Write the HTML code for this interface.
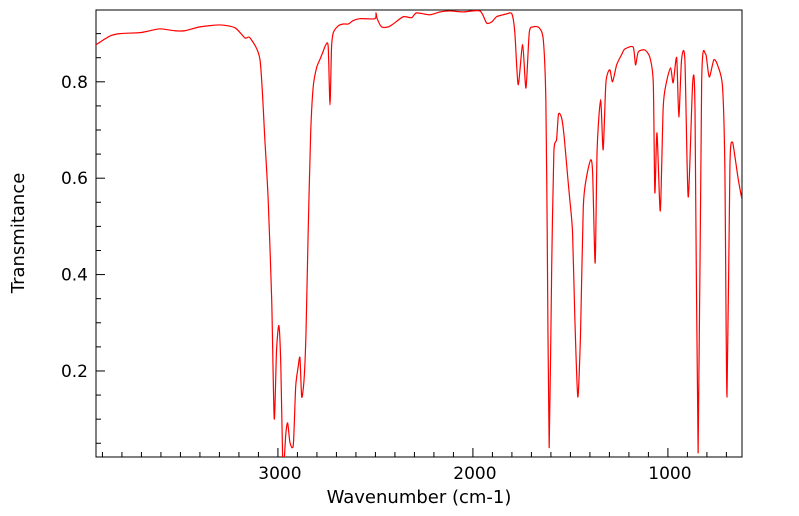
<!DOCTYPE html>
<html><head><meta charset="utf-8"><style>
html,body{margin:0;padding:0;background:#fff;}
svg{display:block;font-family:"DejaVu Sans","Liberation Sans",sans-serif;}
</style></head><body>
<svg id="chart" width="799" height="516" xmlns="http://www.w3.org/2000/svg">
<rect x="96" y="10" width="646" height="447" fill="none" stroke="#000" stroke-width="1"/>
<g id="ticks"></g>
<clipPath id="clip"><rect x="96" y="10" width="646" height="447"/></clipPath>
<path id="spectrum" fill="none" stroke="#ff0000" stroke-width="1.2" clip-path="url(#clip)"/>
<text x="419" y="503" font-size="18" text-anchor="middle">Wavenumber (cm-1)</text>
<text transform="translate(24,233) rotate(-90)" font-size="18" text-anchor="middle">Transmitance</text>
</svg>
<script>
const wavenumbers=[3933,3862,3810,3708,3656,3605,3528,3477,3400,3297,3220,3169,3143,3092,3067,3050,3032,3019,3007,2995,2985,2976,2968,2959,2950,2938,2921,2909,2896,2887,2878,2866,2856,2845,2832,2819,2802,2785,2771,2754,2742,2733,2725,2716,2691,2665,2639,2614,2580,2503,2497,2491,2468,2434,2409,2357,2314,2289,2221,2169,2118,2051,1964,1930,1904,1879,1846,1826,1800,1785,1768,1745,1728,1711,1691,1660,1639,1626,1619,1609,1596,1585,1571,1561,1545,1532,1514,1503,1489,1477,1462,1448,1434,1417,1396,1386,1373,1363,1345,1332,1318,1298,1284,1263,1238,1221,1178,1166,1152,1118,1092,1075,1067,1056,1039,1024,1007,986,973,955,944,930,913,896,873,861,845,827,807,788,764,742,720,708,697,682,670,656,639,620];
const transmittance=[0.877,0.895,0.900,0.902,0.906,0.910,0.906,0.906,0.914,0.918,0.912,0.891,0.891,0.846,0.680,0.555,0.348,0.101,0.244,0.294,0.209,0.022,0.016,0.072,0.092,0.051,0.047,0.167,0.209,0.227,0.146,0.182,0.279,0.487,0.694,0.790,0.829,0.846,0.860,0.877,0.872,0.752,0.872,0.902,0.916,0.920,0.920,0.927,0.931,0.931,0.943,0.931,0.914,0.914,0.920,0.935,0.933,0.943,0.939,0.945,0.947,0.945,0.947,0.922,0.924,0.935,0.939,0.941,0.941,0.902,0.794,0.877,0.787,0.902,0.914,0.912,0.887,0.763,0.487,0.041,0.416,0.653,0.680,0.733,0.725,0.686,0.603,0.555,0.487,0.306,0.146,0.279,0.540,0.603,0.638,0.611,0.424,0.659,0.763,0.659,0.798,0.825,0.800,0.835,0.856,0.868,0.872,0.835,0.862,0.866,0.850,0.798,0.570,0.694,0.532,0.748,0.800,0.829,0.798,0.850,0.727,0.846,0.846,0.561,0.798,0.742,0.030,0.798,0.858,0.810,0.846,0.831,0.790,0.624,0.146,0.624,0.675,0.644,0.597,0.555];
const xMajorTicks=[3000,2000,1000];
const yMajorTicks=[0.2,0.4,0.6,0.8];
const xDomain=[3933,620];
const yDomain=[0.0215,0.949];
const L=96,R=742,T=10,B=457;
function xs(v){return L+(xDomain[0]-v)/(xDomain[0]-xDomain[1])*(R-L);}
function ys(v){return B-(v-yDomain[0])/(yDomain[1]-yDomain[0])*(B-T);}
const NS="http://www.w3.org/2000/svg";
const pts=wavenumbers.map((w,i)=>[xs(w),ys(transmittance[i])]);
let d='M'+pts[0][0].toFixed(2)+','+pts[0][1].toFixed(2);
const k=0.12;
for(let i=0;i<pts.length-1;i++){
  const p0=pts[Math.max(0,i-1)],p1=pts[i],p2=pts[i+1],p3=pts[Math.min(pts.length-1,i+2)];
  const c1=[p1[0]+(p2[0]-p0[0])*k,p1[1]+(p2[1]-p0[1])*k];
  const c2=[p2[0]-(p3[0]-p1[0])*k,p2[1]-(p3[1]-p1[1])*k];
  d+=' C'+c1[0].toFixed(2)+','+c1[1].toFixed(2)+' '+c2[0].toFixed(2)+','+c2[1].toFixed(2)+' '+p2[0].toFixed(2)+','+p2[1].toFixed(2);
}
document.getElementById('spectrum').setAttribute('d',d);
const g=document.getElementById('ticks');
function mk(tag,attrs){const e=document.createElementNS(NS,tag);for(const a in attrs)e.setAttribute(a,attrs[a]);g.appendChild(e);return e;}
for(let w=3900;w>=700;w-=100){
  const x=xs(w);const major=xMajorTicks.includes(w);
  const t=mk('line',{x1:x,x2:x,y1:B,y2:B-(major?9:5),stroke:'#000','stroke-width':1});
  
  
}
xMajorTicks.forEach(w=>{
  const t=mk('text',{x:xs(w)+2,y:B+22,'font-size':17,'text-anchor':'middle'});
  t.textContent=String(w);
  
  
});
for(let j=1;j<=18;j++){
  const v=j*0.05;if(v<yDomain[0]||v>yDomain[1])continue;
  const y=ys(v);const major=j%4===0;
  const t=mk('line',{x1:L,x2:L+(major?9:5),y1:y,y2:y,stroke:'#000','stroke-width':1});
  
  
}
yMajorTicks.forEach(v=>{
  const t=mk('text',{x:L-8,y:ys(v)+6,'font-size':17,'text-anchor':'end'});
  t.textContent=v.toFixed(1);
  
  
});
</script>
</body></html>
